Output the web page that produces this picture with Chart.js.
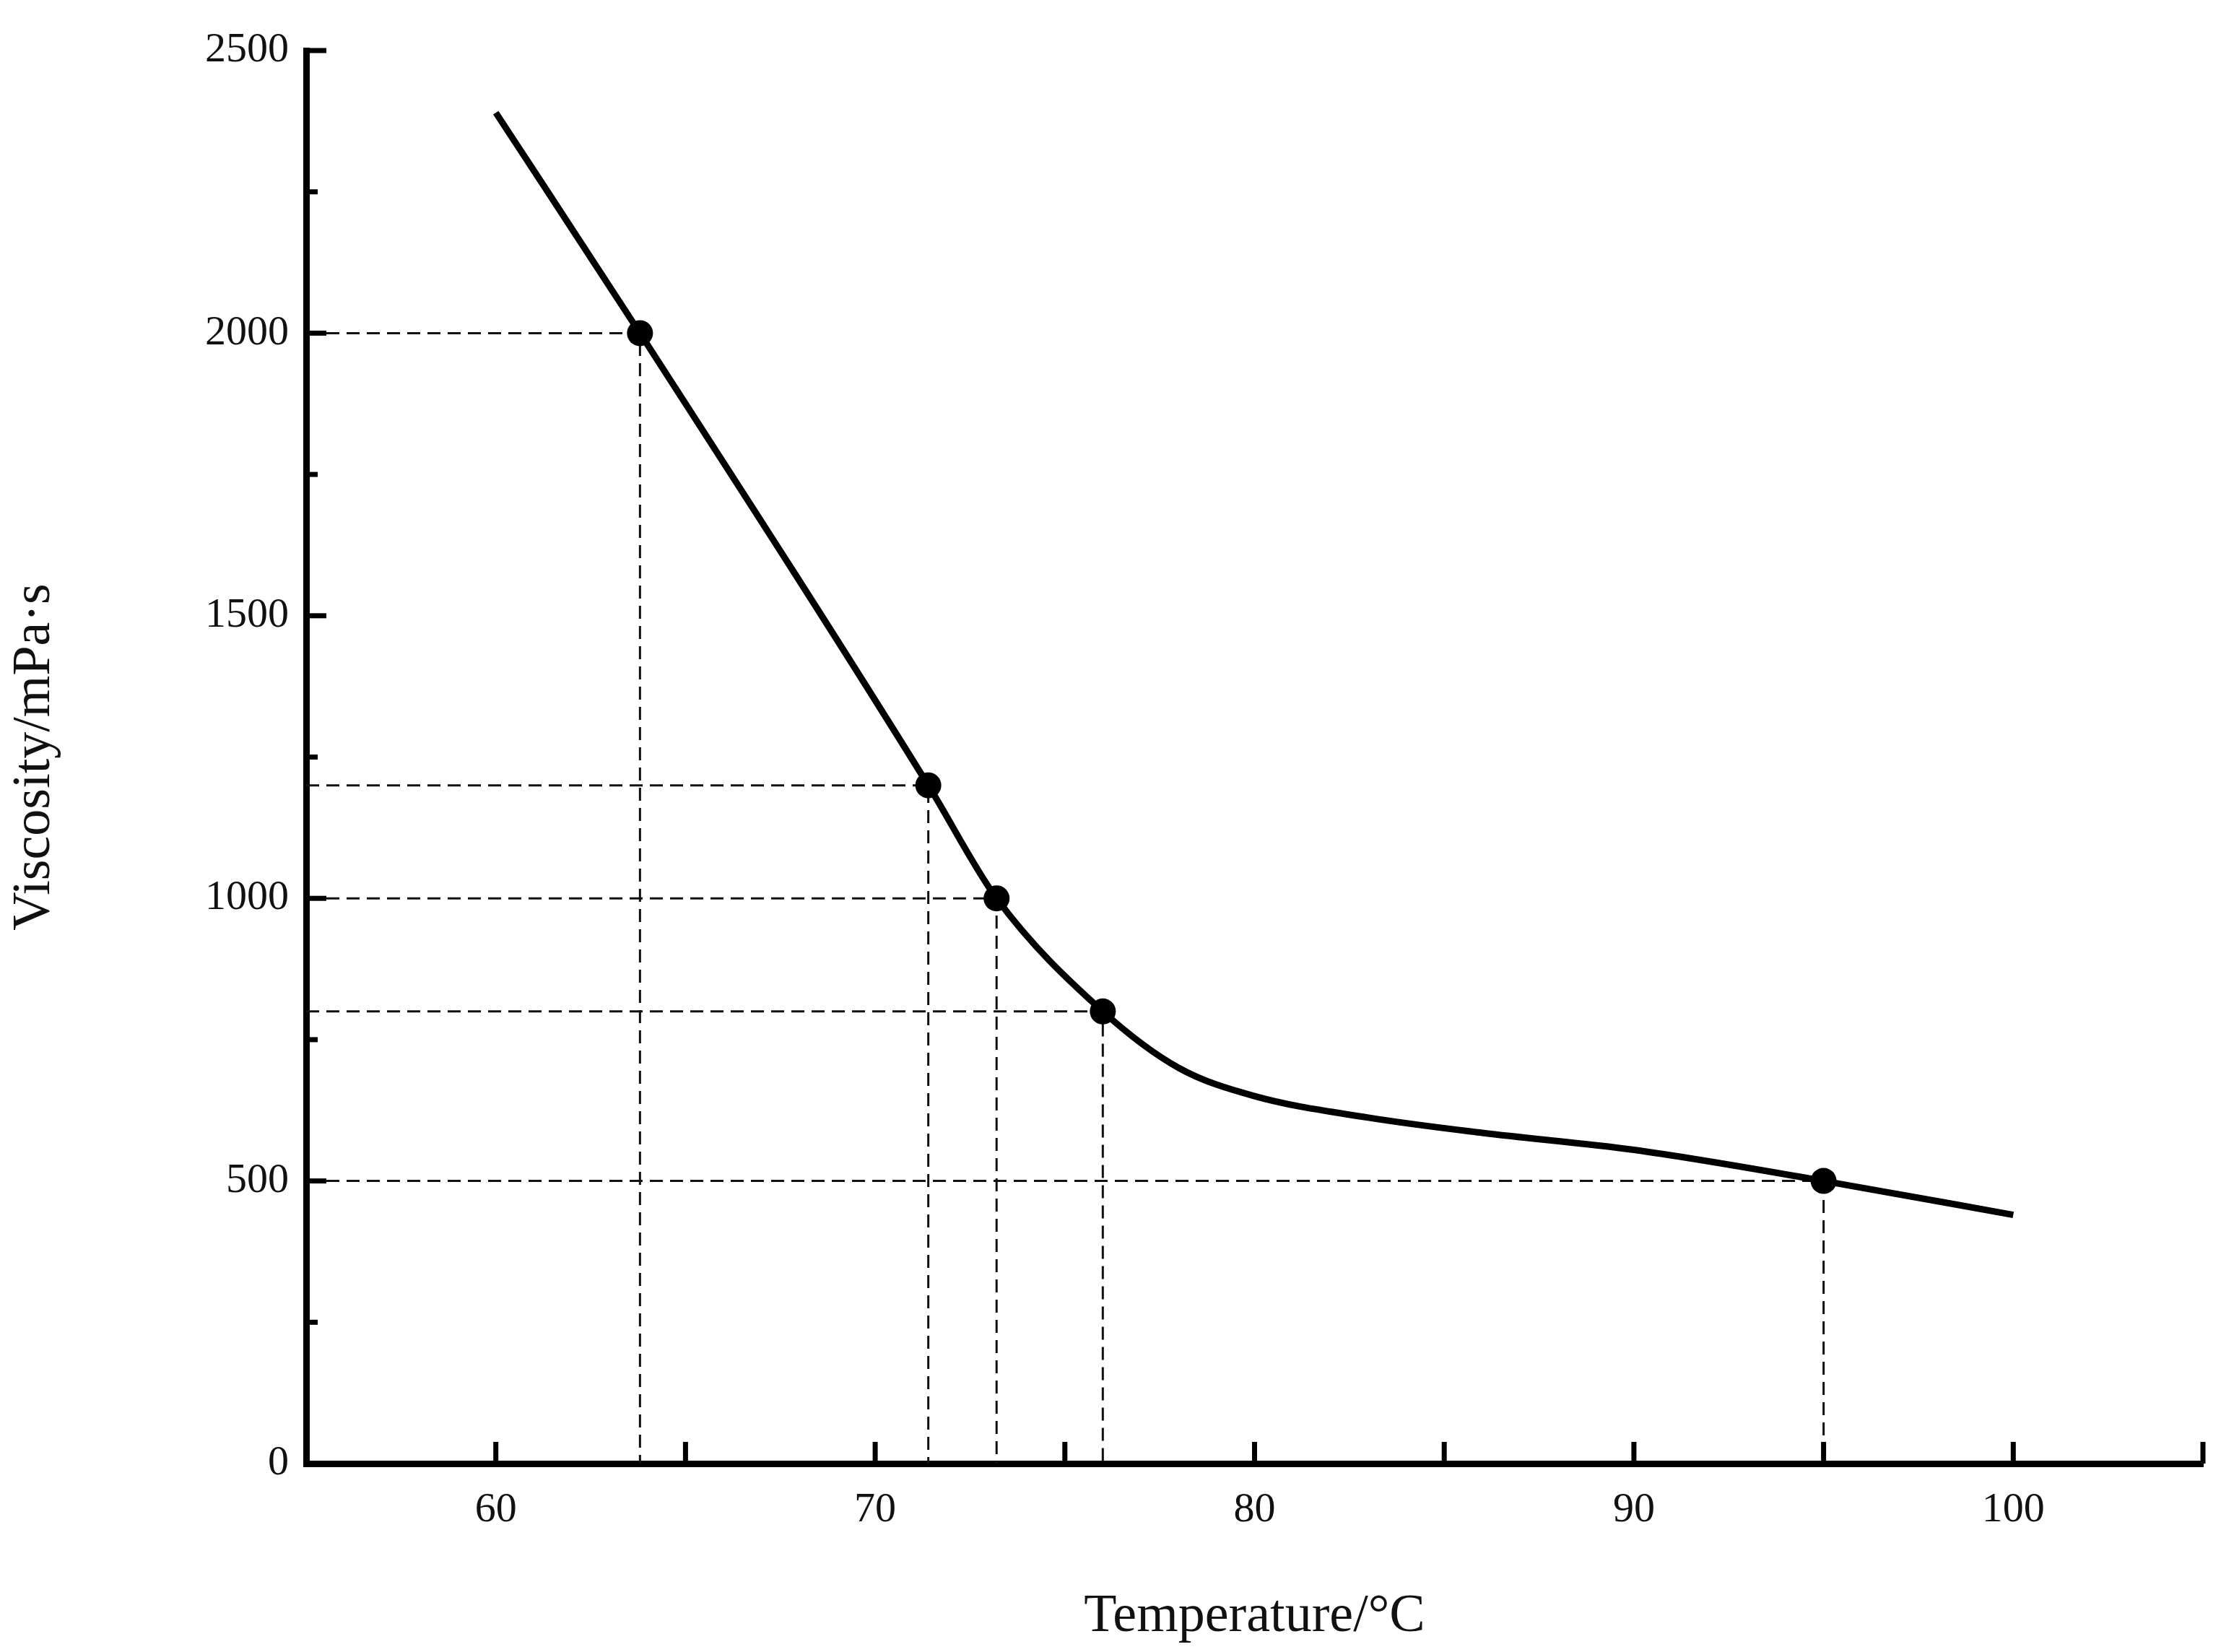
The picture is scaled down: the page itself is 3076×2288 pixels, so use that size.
<!DOCTYPE html>
<html>
<head>
<meta charset="utf-8">
<script src="https://cdn.jsdelivr.net/npm/chart.js@4/dist/chart.umd.min.js"></script>
<style>
  html, body { margin: 0; padding: 0; background: #fff; }
  #wrap { width: 3076px; height: 2288px; }
</style>
</head>
<body>
<div id="wrap"><canvas id="viscosity-chart" width="3076" height="2288"></canvas></div>
<script>
// curve
const curveTemps = [60, 63.8, 71.4, 73.2, 76, 78, 80, 83, 86, 90, 95, 100];
const curveVisc  = [2390, 2000, 1200, 1000, 800, 700, 650, 612, 585, 555, 500, 440];

// marked points and their guide lines
const markTemps = [63.8, 71.4, 73.2, 76, 95];
const markVisc  = [2000, 1200, 1000, 800, 500];

const xMin = 55, xMax = 105;
const yMin = 0, yMax = 2500;
const xTickLabels = [60, 70, 80, 90, 100];
const yTickLabels = [0, 500, 1000, 1500, 2000, 2500];

const curveData = curveTemps.map((t, i) => ({ x: t, y: curveVisc[i] }));
const radii = curveTemps.map(t => markTemps.includes(t) ? 18 : 0);

const guideSets = markTemps.map((t, i) => ({
    data: [{ x: xMin, y: markVisc[i] }, { x: t, y: markVisc[i] }, { x: t, y: 0 }],
    showLine: true,
    borderColor: '#111',
    borderWidth: 3,
    borderDash: [18, 10],
    pointRadius: 0,
    tension: 0
}));

// inward tick marks on both axes
const tickMarks = {
    id: 'tickMarks',
    afterDraw(chart) {
        const c = chart.ctx, xs = chart.scales.x, ys = chart.scales.y;
        const area = chart.chartArea;
        c.save();
        c.strokeStyle = '#000';
        c.lineWidth = 7;
        for (let v = 60; v <= 105; v += 5) {
            const px = xs.getPixelForValue(v);
            c.beginPath(); c.moveTo(px, area.bottom); c.lineTo(px, area.bottom - 30); c.stroke();
        }
        for (let v = 250; v <= 2500; v += 250) {
            const py = ys.getPixelForValue(v);
            const len = v % 500 === 0 ? 28 : 16;
            c.beginPath(); c.moveTo(area.left, py); c.lineTo(area.left + len, py); c.stroke();
        }
        c.restore();
    }
};

const ctx = document.getElementById('viscosity-chart');

new Chart(ctx, {
    type: 'scatter',
    data: {
        datasets: [{
            data: curveData,
            showLine: true,
            borderColor: '#000',
            borderWidth: 9,
            pointRadius: radii,
            pointBackgroundColor: '#000',
            pointBorderWidth: 0,
            cubicInterpolationMode: 'monotone'
        }, ...guideSets]
    },
    plugins: [tickMarks],
    options: {
        responsive: false,
        animation: false,
        layout: { padding: { top: 70, right: 25, left: 0, bottom: 0 } },
        plugins: { legend: { display: false }, tooltip: { enabled: false } },
        scales: {
            x: {
                type: 'linear', min: xMin, max: xMax,
                afterFit: s => { s.height = 261; },
                afterBuildTicks: s => { s.ticks = xTickLabels.map(v => ({ value: v })); },
                grid: { display: false, drawTicks: false },
                border: { color: '#000', width: 9 },
                ticks: { color: '#111', padding: 30, callback: v => String(v),
                         font: { family: 'Liberation Serif', size: 58 } },
                title: { display: true, text: 'Temperature/°C', color: '#111', padding: { top: 30 },
                         font: { family: 'Liberation Serif', size: 74 } }
            },
            y: {
                type: 'linear', min: yMin, max: yMax,
                afterFit: s => { s.width = 424; },
                afterBuildTicks: s => { s.ticks = yTickLabels.map(v => ({ value: v })); },
                grid: { display: false, drawTicks: false },
                border: { color: '#000', width: 9 },
                ticks: { color: '#111', padding: 24, callback: v => String(v),
                         font: { family: 'Liberation Serif', size: 58 } },
                title: { display: true, text: 'Viscosity/mPa·s', color: '#111',
                         font: { family: 'Liberation Serif', size: 74 } }
            }
        }
    }
});
</script>
</body>
</html>
